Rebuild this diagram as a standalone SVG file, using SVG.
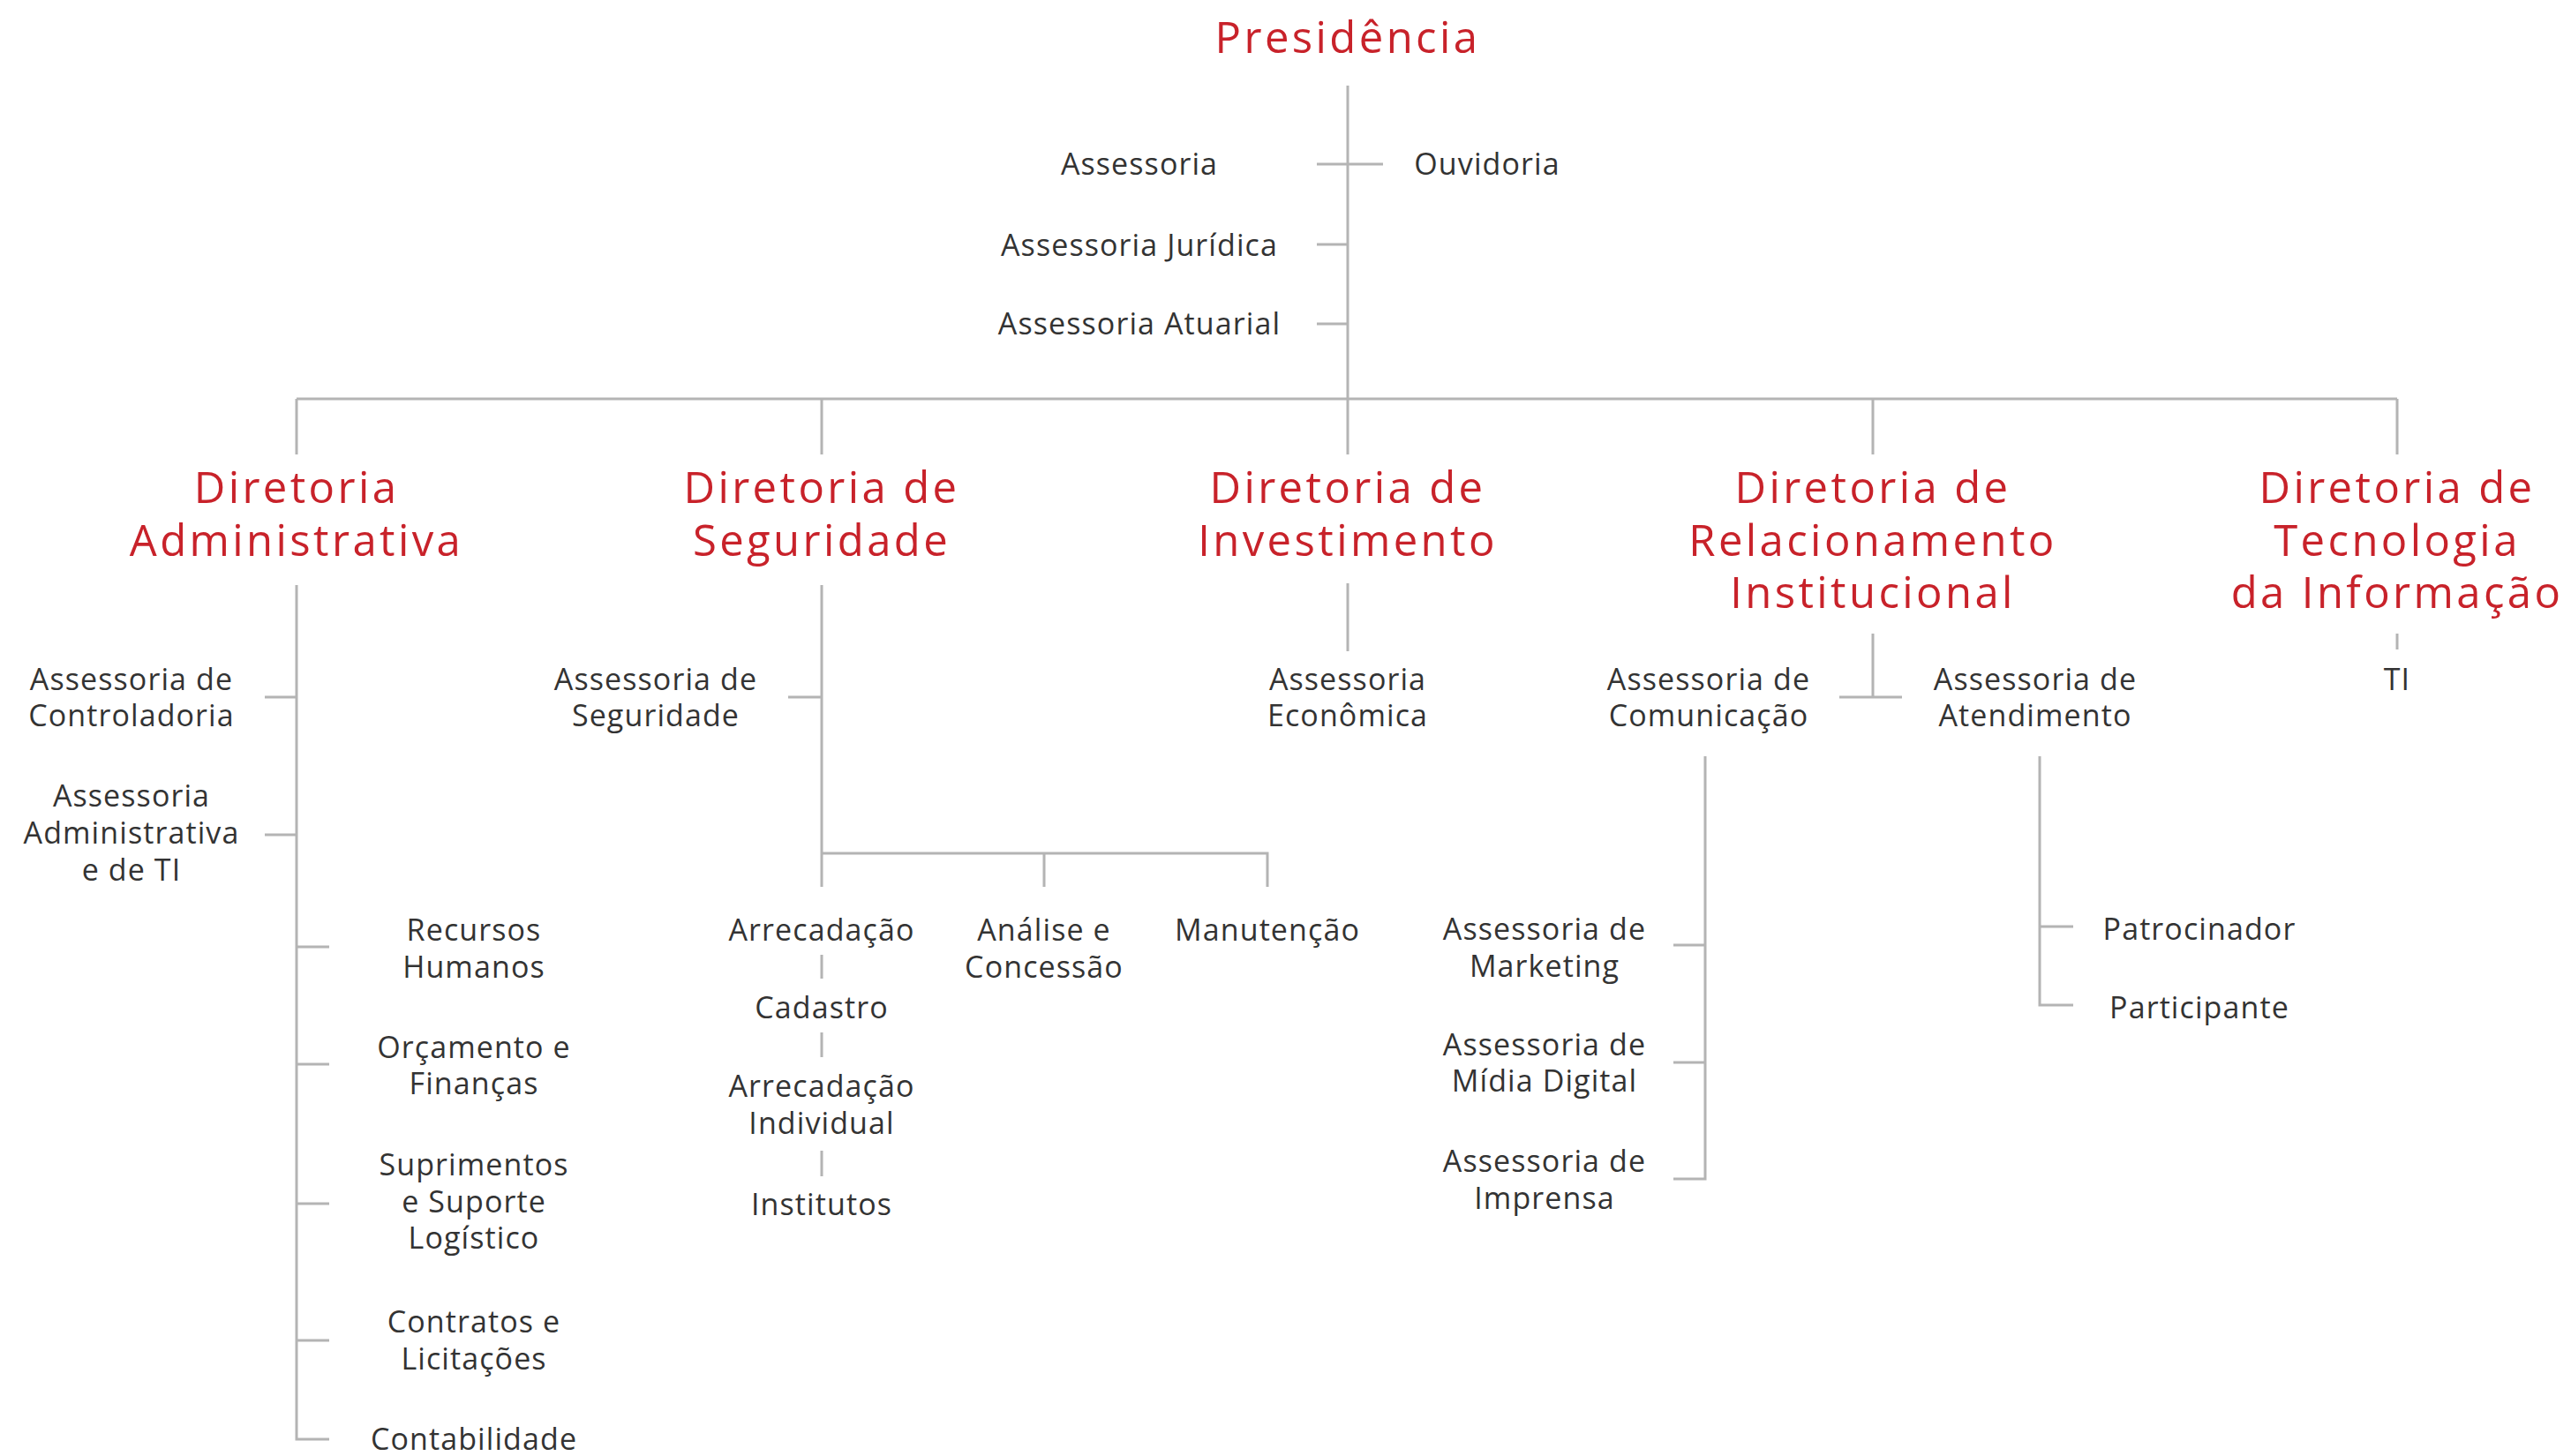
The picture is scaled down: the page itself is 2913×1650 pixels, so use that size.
<svg xmlns="http://www.w3.org/2000/svg" width="2913" height="1650" viewBox="0 0 2913 1650">
<style>
.t{font-family:"Open Sans","Liberation Sans",sans-serif;font-size:49px;fill:#c8222a;text-anchor:middle;letter-spacing:3.4px}
.s{font-family:"Open Sans","Liberation Sans",sans-serif;font-size:34px;fill:#333;text-anchor:middle;letter-spacing:1.1px}
.ln{fill:none;stroke:#b4b4b4;stroke-width:3}
</style>
<rect width="2913" height="1650" fill="#fff"/>
<g id="connectors" class="ln">
<path d="M1527 97V515M336 452H2716M336 452V515M931 452V515M2122 452V515M2716 452V515"/>
<path d="M1492 186H1567M1492 277H1527M1492 367H1527"/>
<path d="M336 663V1631H373M300 790H336M300 946H336M336 1073H373M336 1206H373M336 1364H373M336 1519H373"/>
<path d="M931 663V1005M893 790H931M931 967H1436V1005M1183 967V1005M931 1082V1109M931 1170V1198M931 1304V1333"/>
<path d="M1527 661V738"/>
<path d="M2122 718V790M2084 790H2155M1932 857V1336H1896M1896 1071H1932M1896 1204H1932M2311 857V1139H2349M2311 1050H2349"/>
<path d="M2716 718V736"/>
</g>
<g id="presidencia"><text class="t" x="1527" y="60">Presidência</text></g>
<g id="assessoria"><text class="s" x="1291" y="198">Assessoria</text></g>
<g id="ouvidoria"><text class="s" x="1685" y="198">Ouvidoria</text></g>
<g id="assessoria-juridica"><text class="s" x="1291" y="290">Assessoria Jurídica</text></g>
<g id="assessoria-atuarial"><text class="s" x="1291" y="379">Assessoria Atuarial</text></g>

<g id="dir-adm"><text class="t" x="336" y="570">Diretoria</text><text class="t" x="336" y="629.5">Administrativa</text></g>
<g id="dir-seg"><text class="t" x="931" y="570">Diretoria de</text><text class="t" x="931" y="629.5">Seguridade</text></g>
<g id="dir-inv"><text class="t" x="1527" y="570">Diretoria de</text><text class="t" x="1527" y="629.5">Investimento</text></g>
<g id="dir-rel"><text class="t" x="2122" y="570">Diretoria de</text><text class="t" x="2122" y="629.5">Relacionamento</text><text class="t" x="2122" y="689">Institucional</text></g>
<g id="dir-tec"><text class="t" x="2716" y="570">Diretoria de</text><text class="t" x="2716" y="629.5">Tecnologia</text><text class="t" x="2716" y="689">da Informação</text></g>

<g id="ass-controladoria"><text class="s" x="149" y="782">Assessoria de</text><text class="s" x="149" y="823">Controladoria</text></g>
<g id="ass-adm-ti"><text class="s" x="149" y="914">Assessoria</text><text class="s" x="149" y="956">Administrativa</text><text class="s" x="149" y="998">e de TI</text></g>
<g id="rh"><text class="s" x="537" y="1066">Recursos</text><text class="s" x="537" y="1108">Humanos</text></g>
<g id="orcamento"><text class="s" x="537" y="1199">Orçamento e</text><text class="s" x="537" y="1240">Finanças</text></g>
<g id="suprimentos"><text class="s" x="537" y="1332">Suprimentos</text><text class="s" x="537" y="1374">e Suporte</text><text class="s" x="537" y="1415">Logístico</text></g>
<g id="contratos"><text class="s" x="537" y="1510">Contratos e</text><text class="s" x="537" y="1552">Licitações</text></g>
<g id="contabilidade"><text class="s" x="537" y="1643">Contabilidade</text></g>

<g id="ass-seguridade"><text class="s" x="743" y="782">Assessoria de</text><text class="s" x="743" y="823">Seguridade</text></g>
<g id="arrecadacao"><text class="s" x="931" y="1066">Arrecadação</text></g>
<g id="cadastro"><text class="s" x="931" y="1154">Cadastro</text></g>
<g id="arrecadacao-ind"><text class="s" x="931" y="1243">Arrecadação</text><text class="s" x="931" y="1285">Individual</text></g>
<g id="institutos"><text class="s" x="931" y="1377">Institutos</text></g>
<g id="analise"><text class="s" x="1183" y="1066">Análise e</text><text class="s" x="1183" y="1108">Concessão</text></g>
<g id="manutencao"><text class="s" x="1436" y="1066">Manutenção</text></g>

<g id="ass-economica"><text class="s" x="1527" y="782">Assessoria</text><text class="s" x="1527" y="823">Econômica</text></g>

<g id="ass-comunicacao"><text class="s" x="1936" y="782">Assessoria de</text><text class="s" x="1936" y="823">Comunicação</text></g>
<g id="ass-atendimento"><text class="s" x="2306" y="782">Assessoria de</text><text class="s" x="2306" y="823">Atendimento</text></g>
<g id="ass-marketing"><text class="s" x="1750" y="1065">Assessoria de</text><text class="s" x="1750" y="1107">Marketing</text></g>
<g id="ass-midia"><text class="s" x="1750" y="1196">Assessoria de</text><text class="s" x="1750" y="1237">Mídia Digital</text></g>
<g id="ass-imprensa"><text class="s" x="1750" y="1328">Assessoria de</text><text class="s" x="1750" y="1370">Imprensa</text></g>
<g id="patrocinador"><text class="s" x="2492" y="1065">Patrocinador</text></g>
<g id="participante"><text class="s" x="2492" y="1154">Participante</text></g>

<g id="ti"><text class="s" x="2716" y="782">TI</text></g>
</svg>
